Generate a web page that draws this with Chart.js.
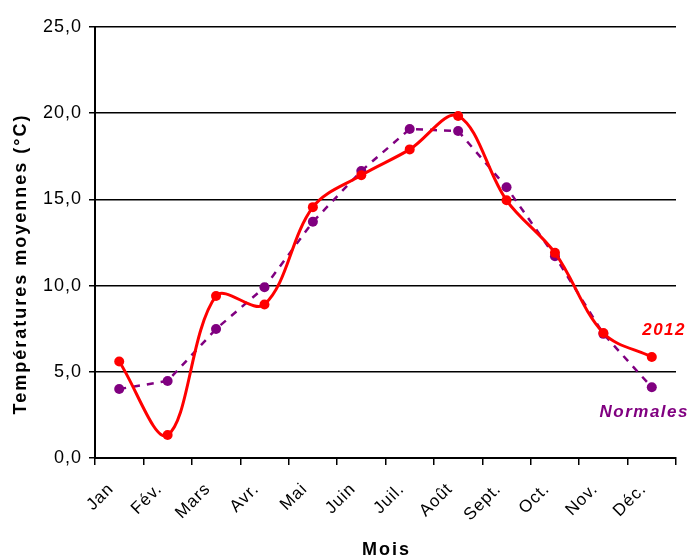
<!DOCTYPE html>
<html>
<head>
<meta charset="utf-8">
<script src="https://cdn.jsdelivr.net/npm/chart.js@4.4.1/dist/chart.umd.min.js"></script>
<style>
  html, body { margin: 0; padding: 0; background: #fff; }
  #wrap { width: 688px; height: 558px; }
</style>
</head>
<body>
<div id="wrap"><canvas id="chart"></canvas></div>
<script>
// Mois et températures moyennes (°C)
const months = ['Jan', 'Fév.', 'Mars', 'Avr.', 'Mai', 'Juin', 'Juil.', 'Août', 'Sept.', 'Oct.', 'Nov.', 'Déc.'];
const temps2012 = [5.6, 1.33, 9.4, 8.9, 14.55, 16.4, 17.9, 19.84, 14.95, 11.9, 7.25, 5.86];
const tempsNormales = [4.0, 4.47, 7.48, 9.9, 13.7, 16.65, 19.08, 18.97, 15.7, 11.7, 7.2, 4.1];
const yTicks = [0, 5, 10, 15, 20, 25];

const FONT = "'Liberation Sans', Arial, sans-serif";

// léger espacement des lettres comme dans l'original
const spacingPlugin = {
  id: 'spacing',
  beforeLayout(chart) { chart.ctx.letterSpacing = '1px'; },
  beforeDraw(chart) { chart.ctx.letterSpacing = '1px'; }
};

// titres des axes et étiquettes des séries
const labelsPlugin = {
  id: 'labels',
  afterDraw(chart) {
    const ctx = chart.ctx;
    const area = chart.chartArea;
    ctx.save();
    ctx.letterSpacing = '2px';
    ctx.fillStyle = '#000';
    ctx.font = 'bold 18px ' + FONT;
    ctx.textAlign = 'center';
    ctx.textBaseline = 'middle';
    ctx.fillText('Mois', (area.left + area.right) / 2 + 1, 550);
    ctx.translate(21, 264);
    ctx.rotate(-Math.PI / 2);
    ctx.fillText('Températures moyennes (°C)', 0, 0);
    ctx.restore();

    ctx.save();
    ctx.letterSpacing = '1.5px';
    ctx.font = 'italic bold 17px ' + FONT;
    ctx.textAlign = 'right';
    ctx.textBaseline = 'alphabetic';
    ctx.fillStyle = '#FF0000';
    ctx.fillText('2012', chart.width - 2, 335);
    ctx.fillStyle = '#800080';
    ctx.fillText('Normales', chart.width + 1, 417);
    ctx.restore();
  }
};

const ctx = document.getElementById('chart').getContext('2d');
new Chart(ctx, {
  type: 'line',
  data: {
    labels: months,
    datasets: [{
      label: '2012',
      data: temps2012,
      borderColor: '#FF0000',
      backgroundColor: '#FF0000',
      borderWidth: 3,
      pointRadius: 5,
      pointBorderWidth: 0,
      tension: 0.35
    }, {
      label: 'Normales',
      data: tempsNormales,
      borderColor: '#800080',
      backgroundColor: '#800080',
      borderWidth: 2.5,
      borderDash: [7, 7],
      pointRadius: 5,
      pointBorderWidth: 0,
      tension: 0
    }]
  },
  options: {
    responsive: true,
    maintainAspectRatio: false,
    animation: false,
    layout: { padding: { top: 27, right: 12, left: 0, bottom: 0 } },
    plugins: {
      legend: { display: false },
      tooltip: { enabled: false }
    },
    scales: {
      x: {
        offset: true,
        grid: {
          offset: true,
          drawOnChartArea: false,
          drawTicks: true,
          tickLength: 7,
          color: '#000',
          lineWidth: 1.5
        },
        border: { color: '#000', width: 2 },
        ticks: {
          color: '#000',
          font: { family: FONT, size: 17 },
          minRotation: 45,
          maxRotation: 45,
          padding: 6,
          // espaces finaux : décale les libellés inclinés vers le bas à gauche
          callback(value) { return this.getLabelForValue(value) + '  '; }
        },
        afterFit(scale) { scale.height = 100; }
      },
      y: {
        min: 0,
        max: 25,
        afterBuildTicks(scale) { scale.ticks = yTicks.map(v => ({ value: v })); },
        grid: {
          color: '#000',
          lineWidth: 1.5,
          drawTicks: true,
          tickLength: 6
        },
        border: { color: '#000', width: 2 },
        ticks: {
          color: '#000',
          font: { family: FONT, size: 18 },
          padding: 7,
          callback: v => v.toFixed(1).replace('.', ',')
        },
        afterFit(scale) { scale.width = 95; }
      }
    }
  },
  plugins: [spacingPlugin, labelsPlugin]
});
</script>
</body>
</html>
